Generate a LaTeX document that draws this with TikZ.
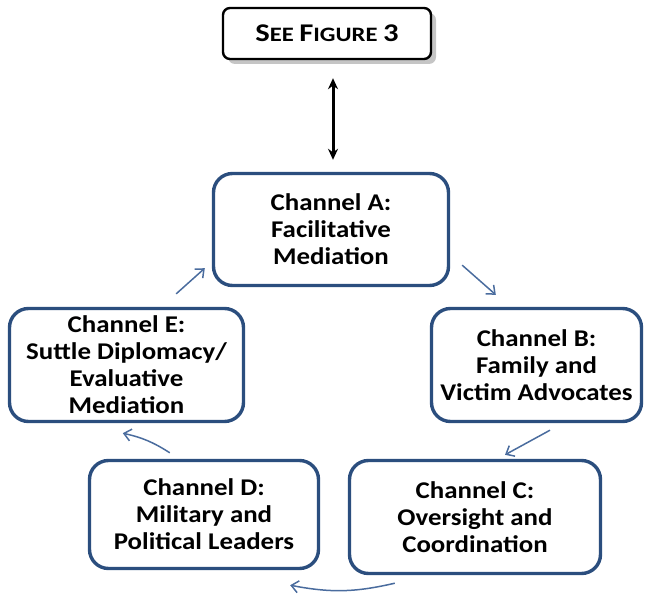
\documentclass[tikz,border=0pt]{standalone}
\usepackage{fontspec}
\setmainfont{Carlito}
\newfontfamily\chanfont[FakeStretch=1.12]{Carlito}
\newfontfamily\figfont[FakeStretch=1.2]{Carlito}
\usepackage{tikz}
\usetikzlibrary{calc,shadows,arrows.meta}
\definecolor{bleucanal}{HTML}{2B4E7E}
\definecolor{bleufleche}{HTML}{4A6C9E}

\tikzset{
    canal/.style={draw=bleucanal,line width=3.4pt,rounded corners=19pt,fill=white,
        align=center,inner sep=0pt,font=\chanfont\bfseries\fontsize{24}{27}\selectfont},
    fleche/.style={draw=bleufleche,line width=1.5pt,-{Straight Barb[length=7pt,width=12pt]}}
}

\begin{document}
\begin{tikzpicture}[x=1pt,y=-1pt,>=stealth]

        % Cadre de la page
        \useasboundingbox (0,0) rectangle (653,594);

        % Boite du haut avec ombre
        \node[draw=black,line width=2.4pt,rounded corners=7pt,fill=white,
            minimum width=208pt,minimum height=51pt,
            drop shadow={shadow xshift=5pt,shadow yshift=-5pt,fill=black!45},
            font=\figfont\bfseries] (fig) at (327,33.5)
            {\fontsize{25.5}{27}\selectfont S\fontsize{20.5}{27}\selectfont EE
             \fontsize{25.5}{27}\selectfont F\fontsize{20.5}{27}\selectfont IGURE
             \fontsize{25.5}{27}\selectfont 3};

        % Les cinq canaux
        \node[canal,minimum width=235pt,minimum height=112pt] (A) at (331,229.5)
            {Channel A:\\Facilitative\\Mediation};
        \node[canal,minimum width=210pt,minimum height=113pt] (B) at (536.5,365)
            {Channel B:\\Family and\\Victim Advocates};
        \node[canal,minimum width=251pt,minimum height=113pt] (C) at (475,517)
            {Channel C:\\Oversight and\\Coordination};
        \node[canal,minimum width=229pt,minimum height=108pt] (D) at (204,514.5)
            {Channel D:\\Military and\\Political Leaders};
        \node[canal,minimum width=234pt,minimum height=113pt] (E) at (126.5,365)
            {Channel E:\\Suttle Diplomacy/\\Evaluative\\Mediation};

        % Fleche double entre la figure et le canal A
        \draw[black,line width=3pt,{Stealth[length=11pt,width=10pt]}-{Stealth[length=11pt,width=10pt]}]
            ($(fig.south)+(6,18)$) -- ($(A.north)+(2,-12)$);

        % Fleches du cycle
        \draw[fleche] ($(A.south east)+(12,-22)$) -- ($(B.north west)+(66,-12)$);
        \draw[fleche] ($(B.south)+(13.5,7)$) -- ($(C.north)+(30,-4)$);
        \draw[fleche] ($(C.south west)+(47,8)$) to[bend left=12] ($(D.south east)+(-30,15)$);
        \draw[fleche] ($(D.north west)+(82,-6)$) to[bend right=10] ($(E.south west)+(115,10)$);
        \draw[fleche] ($(E.north east)+(-69,-13)$) -- ($(A.south west)+(-7,-19)$);
    \end{tikzpicture}
\end{document}
